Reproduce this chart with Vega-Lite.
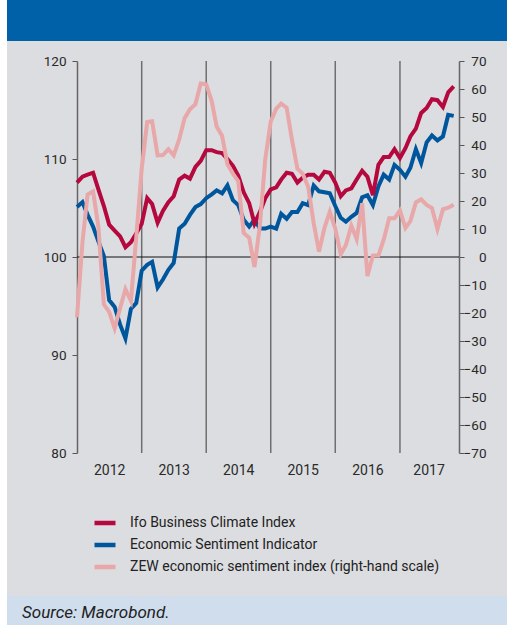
{
  "$schema": "https://vega.github.io/schema/vega-lite/v6.json",
  "background": "#ffffff",
  "padding": {"left": 7, "top": 0, "right": 0, "bottom": 0},
  "config": {
    "view": {"stroke": null},
    "font": "Roboto",
    "axis": {"labelFont": "Roboto", "labelFontSize": 13.5, "labelColor": "#2a2a2a", "tickColor": "#555555", "domainColor": "#666666", "grid": false},
    "legend": {
      "orient": "none", "legendX": 85, "legendY": 510, "padding": 0,
      "direction": "vertical", "symbolType": "stroke", "symbolSize": 441, "symbolStrokeWidth": 4.5,
      "labelFont": "Roboto", "labelFontSize": 14, "labelColor": "#222222", "labelLimit": 400,
      "labelOffset": 12, "rowPadding": -1
    }
  },
  "spacing": 0,
  "vconcat": [
    {
      "width": 500, "height": 41,
      "view": {"fill": "#0060a8", "stroke": null},
      "data": {"values": [{}]},
      "mark": "text",
      "encoding": {"text": {"value": ""}}
    },
    {
      "width": 500, "height": 555,
      "view": {"fill": "#dcdde0", "stroke": null},
      "data": {"values": [
        {"d": "2012-01-01", "ifo": 107.6, "esi": 105.1, "zew": -21.6},
        {"d": "2012-02-01", "ifo": 108.2, "esi": 105.6, "zew": 5.4},
        {"d": "2012-03-01", "ifo": 108.4, "esi": 104.3, "zew": 22.3},
        {"d": "2012-04-01", "ifo": 108.6, "esi": 103.1, "zew": 23.4},
        {"d": "2012-05-01", "ifo": 106.9, "esi": 101.6, "zew": 10.8},
        {"d": "2012-06-01", "ifo": 105.2, "esi": 100.1, "zew": -16.9},
        {"d": "2012-07-01", "ifo": 103.3, "esi": 95.6, "zew": -19.6},
        {"d": "2012-08-01", "ifo": 102.7, "esi": 94.9, "zew": -25.5},
        {"d": "2012-09-01", "ifo": 102.1, "esi": 93.1, "zew": -18.2},
        {"d": "2012-10-01", "ifo": 101.0, "esi": 91.7, "zew": -11.5},
        {"d": "2012-11-01", "ifo": 101.5, "esi": 94.7, "zew": -15.7},
        {"d": "2012-12-01", "ifo": 102.4, "esi": 95.3, "zew": 6.9},
        {"d": "2013-01-01", "ifo": 103.4, "esi": 98.6, "zew": 31.5},
        {"d": "2013-02-01", "ifo": 106.0, "esi": 99.2, "zew": 48.2},
        {"d": "2013-03-01", "ifo": 105.4, "esi": 99.5, "zew": 48.5},
        {"d": "2013-04-01", "ifo": 103.5, "esi": 96.9, "zew": 36.3},
        {"d": "2013-05-01", "ifo": 104.7, "esi": 97.7, "zew": 36.4},
        {"d": "2013-06-01", "ifo": 105.6, "esi": 98.7, "zew": 38.5},
        {"d": "2013-07-01", "ifo": 106.2, "esi": 99.4, "zew": 36.3},
        {"d": "2013-08-01", "ifo": 107.9, "esi": 102.9, "zew": 42.0},
        {"d": "2013-09-01", "ifo": 108.3, "esi": 103.4, "zew": 49.6},
        {"d": "2013-10-01", "ifo": 108.0, "esi": 104.3, "zew": 52.8},
        {"d": "2013-11-01", "ifo": 109.2, "esi": 105.1, "zew": 54.6},
        {"d": "2013-12-01", "ifo": 109.8, "esi": 105.4, "zew": 62.0},
        {"d": "2014-01-01", "ifo": 110.9, "esi": 106.0, "zew": 61.7},
        {"d": "2014-02-01", "ifo": 110.9, "esi": 106.4, "zew": 55.7},
        {"d": "2014-03-01", "ifo": 110.7, "esi": 106.8, "zew": 46.6},
        {"d": "2014-04-01", "ifo": 110.6, "esi": 106.5, "zew": 43.2},
        {"d": "2014-05-01", "ifo": 110.0, "esi": 107.3, "zew": 33.1},
        {"d": "2014-06-01", "ifo": 109.3, "esi": 105.8, "zew": 29.8},
        {"d": "2014-07-01", "ifo": 108.3, "esi": 105.3, "zew": 27.1},
        {"d": "2014-08-01", "ifo": 106.6, "esi": 103.8, "zew": 8.6},
        {"d": "2014-09-01", "ifo": 105.5, "esi": 103.1, "zew": 6.9},
        {"d": "2014-10-01", "ifo": 103.4, "esi": 103.8, "zew": -3.6},
        {"d": "2014-11-01", "ifo": 104.6, "esi": 102.9, "zew": 11.5},
        {"d": "2014-12-01", "ifo": 106.0, "esi": 102.9, "zew": 34.9},
        {"d": "2015-01-01", "ifo": 106.9, "esi": 103.1, "zew": 48.4},
        {"d": "2015-02-01", "ifo": 107.1, "esi": 102.9, "zew": 53.0},
        {"d": "2015-03-01", "ifo": 107.9, "esi": 104.4, "zew": 54.8},
        {"d": "2015-04-01", "ifo": 108.6, "esi": 103.9, "zew": 53.3},
        {"d": "2015-05-01", "ifo": 108.5, "esi": 104.6, "zew": 41.9},
        {"d": "2015-06-01", "ifo": 107.6, "esi": 104.6, "zew": 31.5},
        {"d": "2015-07-01", "ifo": 108.1, "esi": 105.5, "zew": 29.7},
        {"d": "2015-08-01", "ifo": 108.4, "esi": 105.3, "zew": 25.0},
        {"d": "2015-09-01", "ifo": 108.4, "esi": 107.3, "zew": 12.1},
        {"d": "2015-10-01", "ifo": 107.9, "esi": 106.7, "zew": 1.9},
        {"d": "2015-11-01", "ifo": 108.7, "esi": 106.6, "zew": 10.4},
        {"d": "2015-12-01", "ifo": 108.6, "esi": 106.5, "zew": 16.1},
        {"d": "2016-01-01", "ifo": 107.6, "esi": 105.2, "zew": 10.2},
        {"d": "2016-02-01", "ifo": 106.2, "esi": 104.0, "zew": 1.0},
        {"d": "2016-03-01", "ifo": 106.8, "esi": 103.6, "zew": 4.3},
        {"d": "2016-04-01", "ifo": 107.0, "esi": 104.1, "zew": 11.2},
        {"d": "2016-05-01", "ifo": 107.9, "esi": 104.5, "zew": 6.4},
        {"d": "2016-06-01", "ifo": 108.8, "esi": 106.1, "zew": 19.2},
        {"d": "2016-07-01", "ifo": 108.2, "esi": 106.3, "zew": -6.8},
        {"d": "2016-08-01", "ifo": 106.3, "esi": 105.3, "zew": 0.5},
        {"d": "2016-09-01", "ifo": 109.4, "esi": 107.2, "zew": 0.5},
        {"d": "2016-10-01", "ifo": 110.2, "esi": 108.4, "zew": 6.2},
        {"d": "2016-11-01", "ifo": 110.2, "esi": 107.9, "zew": 13.8},
        {"d": "2016-12-01", "ifo": 111.0, "esi": 109.4, "zew": 13.8},
        {"d": "2017-01-01", "ifo": 110.1, "esi": 108.9, "zew": 16.6},
        {"d": "2017-02-01", "ifo": 111.1, "esi": 108.2, "zew": 10.4},
        {"d": "2017-03-01", "ifo": 112.3, "esi": 109.1, "zew": 12.8},
        {"d": "2017-04-01", "ifo": 113.1, "esi": 111.0, "zew": 19.5},
        {"d": "2017-05-01", "ifo": 114.7, "esi": 109.6, "zew": 20.6},
        {"d": "2017-06-01", "ifo": 115.2, "esi": 111.7, "zew": 18.6},
        {"d": "2017-07-01", "ifo": 116.1, "esi": 112.4, "zew": 17.5},
        {"d": "2017-08-01", "ifo": 116.0, "esi": 111.9, "zew": 10.0},
        {"d": "2017-09-01", "ifo": 115.3, "esi": 112.3, "zew": 17.0},
        {"d": "2017-10-01", "ifo": 116.8, "esi": 114.5, "zew": 17.6},
        {"d": "2017-11-01", "ifo": 117.4, "esi": 114.4, "zew": 18.7}
      ]},
      "layer": [
        {
          "layer": [
            {
              "data": {"values": [{"d": "2013-01-01"}, {"d": "2014-01-01"}, {"d": "2015-01-01"}, {"d": "2016-01-01"}, {"d": "2017-01-01"}]},
              "mark": {"type": "rule", "color": "#6f6f6f", "strokeWidth": 1.5},
              "encoding": {
                "x": {"field": "d", "type": "temporal", "scale": {"domain": [{"year": 2012, "month": 1, "date": 1}, {"year": 2017, "month": 12, "date": 1}], "range": [70, 452]}},
                "y": {"datum": 120, "type": "quantitative", "scale": {"domain": [80, 120], "range": [412, 20], "nice": false, "zero": false}},
                "y2": {"datum": 80}
              }
            },
            {
              "data": {"values": [{}]},
              "mark": {"type": "rule", "color": "#111111", "strokeWidth": 1},
              "encoding": {
                "x": {"datum": {"year": 2012, "month": 1, "date": 1}, "type": "temporal", "scale": {"domain": [{"year": 2012, "month": 1, "date": 1}, {"year": 2017, "month": 12, "date": 1}], "range": [70, 452]}},
                "x2": {"datum": {"year": 2017, "month": 12, "date": 1}},
                "y": {"datum": 100, "type": "quantitative", "scale": {"domain": [80, 120], "range": [412, 20], "nice": false, "zero": false}}
              }
            },
            {
              "transform": [{"fold": ["esi", "ifo"], "as": ["series", "value"]}],
              "mark": {"type": "line", "strokeWidth": 4},
              "encoding": {
                "x": {
                  "field": "d", "type": "temporal",
                  "scale": {"domain": [{"year": 2012, "month": 1, "date": 1}, {"year": 2017, "month": 12, "date": 1}], "range": [70, 452]},
                  "axis": {
                    "title": null, "format": "%Y", "ticks": false, "tickSize": 0, "domain": false, "grid": false,
                    "offset": -143, "labelPadding": 10, "labelFontSize": 14, "labelFlush": false, "labelOverlap": false,
                    "values": [
                      {"year": 2012, "month": 7, "date": 1}, {"year": 2013, "month": 7, "date": 1},
                      {"year": 2014, "month": 7, "date": 1}, {"year": 2015, "month": 7, "date": 1},
                      {"year": 2016, "month": 7, "date": 1}, {"year": 2017, "month": 6, "date": 12}
                    ]
                  }
                },
                "y": {
                  "field": "value", "type": "quantitative",
                  "scale": {"domain": [80, 120], "range": [412, 20], "nice": false, "zero": false},
                  "axis": {
                    "orient": "left", "title": null, "values": [80, 90, 100, 110, 120], "offset": -70,
                    "tickSize": 5, "labelPadding": 6, "domainWidth": 1.5, "grid": false
                  }
                },
                "color": {
                  "field": "series", "type": "nominal",
                  "scale": {"domain": ["ifo", "esi", "zew"], "range": ["#b4083f", "#00569d", "#e8a7a8"]},
                  "legend": {"title": null, "labelExpr": "datum.label == 'ifo' ? 'Ifo Business Climate Index' : datum.label == 'esi' ? 'Economic Sentiment Indicator' : 'ZEW economic sentiment index (right-hand scale)'"}
                }
              }
            }
          ]
        },
        {
          "mark": {"type": "line", "strokeWidth": 4},
          "encoding": {
            "x": {"field": "d", "type": "temporal", "scale": {"domain": [{"year": 2012, "month": 1, "date": 1}, {"year": 2017, "month": 12, "date": 1}], "range": [70, 452]}},
            "y": {
              "field": "zew", "type": "quantitative",
              "scale": {"domain": [-70, 70], "range": [412, 20], "nice": false, "zero": false},
              "axis": {
                "orient": "right", "title": null, "offset": -48,
                "values": [-70, -60, -50, -40, -30, -20, -10, 0, 10, 20, 30, 40, 50, 60, 70],
                "tickSize": 5, "labelAlign": "right", "labelPadding": 22, "domainWidth": 1.5, "grid": false
              }
            },
            "color": {
              "datum": "zew",
              "scale": {"domain": ["ifo", "esi", "zew"], "range": ["#b4083f", "#00569d", "#e8a7a8"]},
              "legend": {"title": null, "labelExpr": "datum.label == 'ifo' ? 'Ifo Business Climate Index' : datum.label == 'esi' ? 'Economic Sentiment Indicator' : 'ZEW economic sentiment index (right-hand scale)'"}
            }
          }
        }
      ],
      "resolve": {"scale": {"y": "independent"}}
    },
    {
      "width": 500, "height": 29,
      "view": {"fill": "#cfdded", "stroke": null},
      "title": {
        "text": "Source: Macrobond.", "orient": "top", "anchor": "start", "frame": "group",
        "offset": -25.5, "dx": 15, "fontSize": 17, "fontStyle": "italic", "fontWeight": "normal",
        "font": "Liberation Sans Narrow, Roboto", "color": "#222222"
      },
      "data": {"values": [{}]},
      "mark": "text",
      "encoding": {"text": {"value": ""}}
    }
  ]
}
